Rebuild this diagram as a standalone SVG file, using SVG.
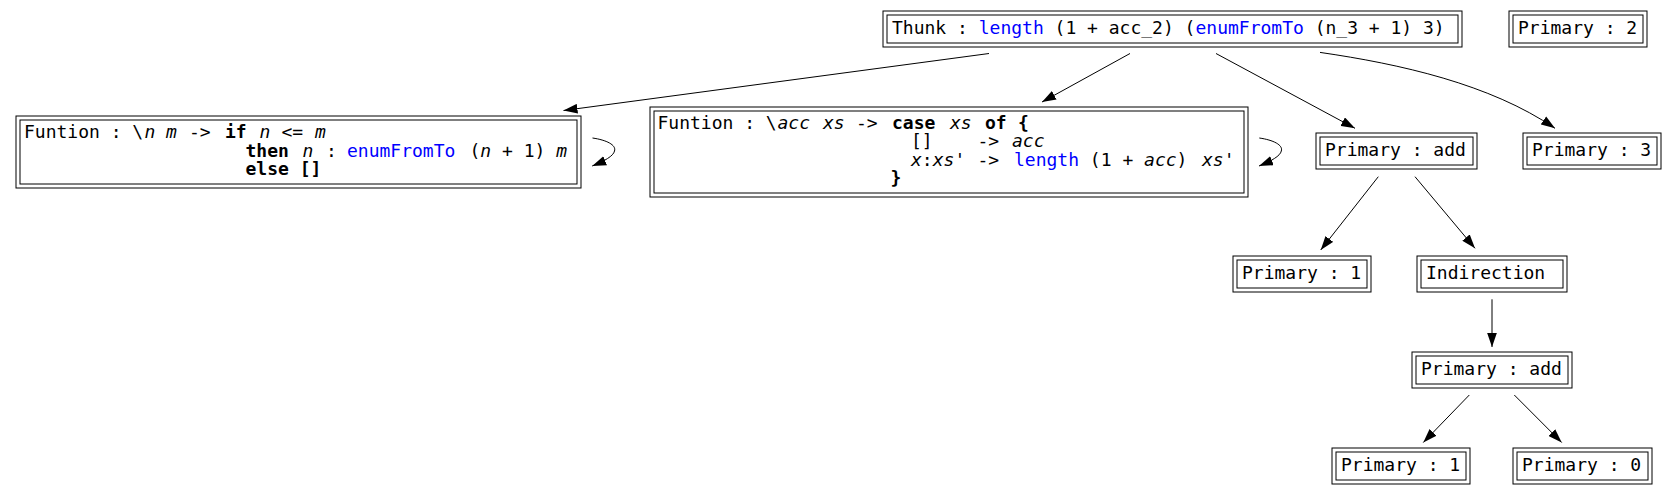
<svg xmlns="http://www.w3.org/2000/svg" width="1677" height="496" viewBox="0 0 1677 496">
<style>
.n rect{fill:none;stroke:#000;stroke-width:1}
text{font-family:"DejaVu Sans Mono","Liberation Mono",monospace;font-size:18px;fill:#000}
.b{font-weight:bold}
.i{font-style:italic}
.k{fill:#0000ff}
.e{fill:none;stroke:#000;stroke-width:1;marker-end:url(#ah)}
</style>
<defs>
<marker id="ah" markerWidth="14" markerHeight="10" refX="13" refY="4.5" orient="auto" markerUnits="userSpaceOnUse" viewBox="0 0 13 9"><path d="M0,0 L13,4.5 L0,9 z" fill="#000"/></marker>
</defs>
<rect width="1677" height="496" fill="#fff"/>
<g id="connectors">
<path class="e" d="M989,53.5 L563.5,110.5"/>
<path class="e" d="M1130,53.5 L1042,102"/>
<path class="e" d="M1216,53.5 L1355,128.3"/>
<path class="e" d="M1320,52.4 C1400,64 1490,84 1555,128.3"/>
<path class="e" d="M1378.3,176.7 L1320.7,250"/>
<path class="e" d="M1415,176.7 L1475,248.3"/>
<path class="e" d="M1492,299.3 L1492,347"/>
<path class="e" d="M1469.3,395 L1423.3,442.5"/>
<path class="e" d="M1514.3,395 L1561.7,442.5"/>
<path class="e" d="M592.5,138 c14,2 24,7 22,13 c-1,5 -10,10 -22.3,15"/>
<path class="e" d="M1259.3,138 c14,2 24,7 22,13 c-1,5 -10,10 -22.3,15"/>
</g>
<g id="thunk" class="n">
<rect x="883" y="11" width="579" height="36"/><rect x="887" y="15" width="571" height="28"/>
<text x="892" y="34" xml:space="preserve">Thunk : <tspan class="k">length</tspan> (1 + acc_2) (<tspan class="k">enumFromTo</tspan> (n_3 + 1) 3)</text>
</g>
<g id="primary2" class="n">
<rect x="1509" y="11" width="138" height="36"/><rect x="1513" y="15" width="130" height="28"/>
<text x="1518" y="34">Primary : 2</text>
</g>
<g id="funtion1" class="n">
<rect x="16" y="116" width="565" height="72"/><rect x="20" y="120" width="557" height="64"/>
<text y="138" xml:space="preserve"><tspan x="24">Funtion : \</tspan><tspan x="144.5" class="i">n</tspan><tspan x="166" class="i">m</tspan><tspan x="189">-&gt;</tspan><tspan x="225" class="b">if</tspan><tspan x="259.5" class="i">n</tspan><tspan x="281.5">&lt;=</tspan><tspan x="315" class="i">m</tspan></text>
<text y="156.5" xml:space="preserve"><tspan x="245.5" class="b">then</tspan><tspan x="302.5" class="i">n</tspan><tspan x="326">:</tspan><tspan x="347" class="k">enumFromTo</tspan><tspan x="469.5">(</tspan><tspan class="i">n</tspan><tspan> + 1) </tspan><tspan class="i">m</tspan></text>
<text y="175" xml:space="preserve"><tspan x="245.5" class="b">else []</tspan></text>
</g>
<g id="funtion2" class="n">
<rect x="650" y="107" width="598" height="90"/><rect x="654" y="111" width="590" height="82"/>
<text y="128.5" xml:space="preserve"><tspan x="657.5">Funtion : \</tspan><tspan x="777.5" class="i">acc</tspan><tspan x="823" class="i">xs</tspan><tspan x="856">-&gt;</tspan><tspan x="892" class="b">case</tspan><tspan x="950" class="i">xs</tspan><tspan x="985" class="b">of</tspan><tspan x="1018" class="b">{</tspan></text>
<text y="147" xml:space="preserve"><tspan x="911">[]</tspan><tspan x="977.5">-&gt;</tspan><tspan x="1012" class="i">acc</tspan></text>
<text y="165.5" xml:space="preserve"><tspan x="911" class="i">x</tspan><tspan>:</tspan><tspan class="i">xs</tspan><tspan>'</tspan><tspan x="977.5">-&gt;</tspan><tspan x="1014" class="k">length</tspan><tspan> (1 + </tspan><tspan class="i">acc</tspan><tspan>)</tspan><tspan x="1202" class="i">xs</tspan><tspan>'</tspan></text>
<text y="184" xml:space="preserve"><tspan x="890.5" class="b">}</tspan></text>
</g>
<g id="add1" class="n">
<rect x="1316" y="133" width="161" height="36"/><rect x="1320" y="137" width="153" height="28"/>
<text x="1325" y="156">Primary : add</text>
</g>
<g id="primary3" class="n">
<rect x="1523" y="133" width="138" height="36"/><rect x="1527" y="137" width="130" height="28"/>
<text x="1532" y="156">Primary : 3</text>
</g>
<g id="primary1a" class="n">
<rect x="1233" y="256" width="138" height="36"/><rect x="1237" y="260" width="130" height="28"/>
<text x="1242" y="279">Primary : 1</text>
</g>
<g id="indirection" class="n">
<rect x="1417" y="256" width="150" height="36"/><rect x="1421" y="260" width="142" height="28"/>
<text x="1426" y="279">Indirection</text>
</g>
<g id="add2" class="n">
<rect x="1412" y="352" width="160" height="36"/><rect x="1416" y="356" width="152" height="28"/>
<text x="1421" y="375">Primary : add</text>
</g>
<g id="primary1b" class="n">
<rect x="1332" y="448" width="138" height="36"/><rect x="1336" y="452" width="130" height="28"/>
<text x="1341" y="471">Primary : 1</text>
</g>
<g id="primary0" class="n">
<rect x="1513" y="448" width="139" height="36"/><rect x="1517" y="452" width="131" height="28"/>
<text x="1522" y="471">Primary : 0</text>
</g>
</svg>
